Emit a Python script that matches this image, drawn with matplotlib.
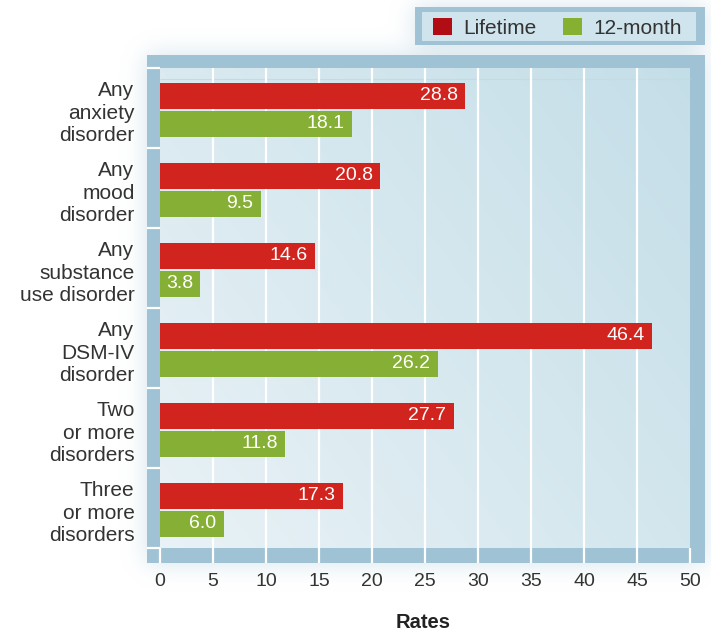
import numpy as np
import matplotlib
matplotlib.use("Agg")
import matplotlib.pyplot as plt
from matplotlib.colors import to_rgb
from matplotlib.patches import Rectangle

plt.rcParams["font.family"] = ["Liberation Sans", "DejaVu Sans"]

categories = [
    "Any\nanxiety\ndisorder",
    "Any\nmood\ndisorder",
    "Any\nsubstance\nuse disorder",
    "Any\nDSM-IV\ndisorder",
    "Two\nor more\ndisorders",
    "Three\nor more\ndisorders",
]
lifetime = [28.8, 20.8, 14.6, 46.4, 27.7, 17.3]
twelve_month = [18.1, 9.5, 3.8, 26.2, 11.8, 6.0]
x_ticks = list(range(0, 55, 5))
legend_labels = ["Lifetime", "12-month"]
legend_colors = ["#b00d14", "#86b030"]

FRAME = "#9fc3d4"
RED = "#d1241e"
GREEN = "#86b035"
TEXT = "#333333"

W, H = 711, 635
fig = plt.figure(figsize=(W / 100, H / 100), dpi=100)


def blur(a, s):
    r = int(3 * s)
    k = np.exp(-0.5 * (np.arange(-r, r + 1) / s) ** 2)
    k /= k.sum()
    a = np.apply_along_axis(lambda v: np.convolve(v, k, mode="same"), 0, a)
    a = np.apply_along_axis(lambda v: np.convolve(v, k, mode="same"), 1, a)
    return a


# soft glow behind the panel and the legend box
mask = np.zeros((H, W))
mask[55:563, 147:705] = 1
mask[7:45, 415:705] = 1
glow = blur(mask, 12) * 0.45
shade = np.zeros((H, W, 4))
shade[..., :3] = to_rgb(FRAME)
shade[..., 3] = glow
bg = fig.add_axes([0, 0, 1, 1])
bg.imshow(shade, extent=(0, W, H, 0), aspect="auto", interpolation="bilinear")
bg.set_xlim(0, W)
bg.set_ylim(H, 0)
bg.axis("off")

# main panel
px = 10.6
ax = fig.add_axes([147 / W, 1 - 563 / H, 558 / W, 508 / H])
ax.set_facecolor(FRAME)
for s in ax.spines.values():
    s.set_visible(False)

yy, xx = np.mgrid[0:1:200j, 0:1:300j]
t = np.clip(xx * 0.6 + (1 - yy) * 0.4, 0, 1)[..., None]
light = np.array(to_rgb("#e9f2f6"))
dark = np.array(to_rgb("#c4dee8"))
grad = light + (dark - light) * t
ax.imshow(grad, extent=(0, 50, 6, 0), aspect="auto", zorder=0, interpolation="bilinear")

xlo, xhi = -13 / px, (705 - 160) / px
ylo, yhi = 6 + 15 / 80, -13 / 80
ax.set_xlim(xlo, xhi)
ax.set_ylim(ylo, yhi)

# faint band line near the top of the panel
ax.hlines(0.14, 0, 50, color="#c2dbe5", lw=0.8, zorder=1)

# white grid lines and category separators
ax.vlines(x_ticks[1:-1], 0, ylo, color="white", lw=1.6, zorder=2)
ax.vlines([x_ticks[0], x_ticks[-1]], 6, ylo, color="white", lw=1.6, zorder=2)
ax.hlines(range(7), xlo, 0, color="white", lw=1.6, zorder=2)

y = np.arange(len(categories))
ax.barh(y + 0.35, lifetime, height=0.33, color=RED, zorder=3)
ax.barh(y + 0.70, twelve_month, height=0.33, color=GREEN, zorder=3)
for i in range(len(categories)):
    ax.text(lifetime[i] - 0.7, y[i] + 0.35, f"{lifetime[i]:.1f}", ha="right",
            va="center", color="white", fontsize=14, zorder=4)
    ax.text(twelve_month[i] - 0.7, y[i] + 0.70, f"{twelve_month[i]:.1f}", ha="right",
            va="center", color="white", fontsize=14, zorder=4)

ax.set_xticks(x_ticks)
ax.set_xticklabels([str(v) for v in x_ticks])
ax.set_yticks(y + 0.52)
ax.set_yticklabels(categories)
ax.tick_params(axis="x", length=0, labelsize=14, colors=TEXT, pad=7)
ax.tick_params(axis="y", length=0, labelsize=15, colors=TEXT, pad=9)
for lbl in ax.get_yticklabels():
    lbl.set_linespacing(1.23)

fig.text(423 / W, 1 - 623 / H, "Rates", ha="center", va="center",
         fontsize=14.5, fontweight="bold", color="#222222")

# legend box, laid out in pixel units
lax = fig.add_axes([415 / W, 1 - 45 / H, 290 / W, 38 / H])
lax.set_xlim(415, 705)
lax.set_ylim(45, 7)
lax.axis("off")
lax.add_patch(Rectangle((415, 7), 290, 38, color=FRAME, lw=0))
lax.add_patch(Rectangle((422, 12), 274, 29, color="#cfe4ed", lw=0))
for x0, lbl, col in zip([433, 563], legend_labels, legend_colors):
    lax.add_patch(Rectangle((x0, 18), 18.5, 17, color=col, lw=0))
    lax.text(x0 + 30, 33.5, lbl, ha="left", va="baseline", fontsize=15, color=TEXT)

fig.savefig("out.png", dpi=100)
